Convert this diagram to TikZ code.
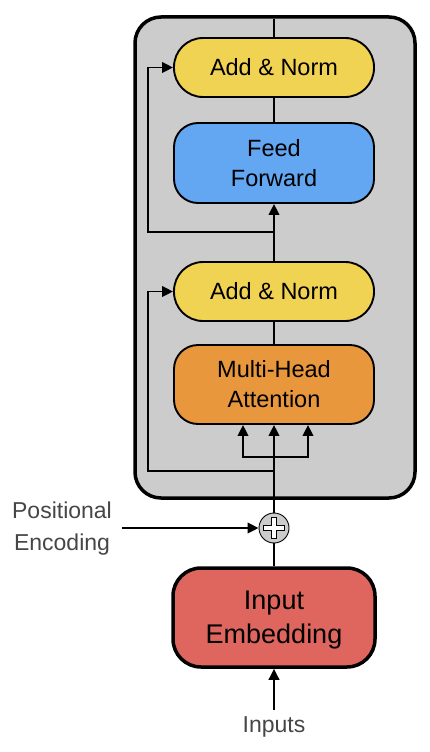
\documentclass[tikz,border=0pt]{standalone}
\usepackage{fontspec}
\setmainfont{Liberation Sans}
\usetikzlibrary{arrows.meta,calc}
\definecolor{boxgray}{RGB}{204,204,204}
\definecolor{normyellow}{RGB}{240,211,82}
\definecolor{ffblue}{RGB}{99,166,242}
\definecolor{mhaorange}{RGB}{232,151,61}
\definecolor{embred}{RGB}{222,102,94}
\definecolor{labelgray}{RGB}{70,70,70}
\tikzset{
  conn/.style={line width=1.9pt},
  arr/.style={conn,-{Triangle[length=11pt,width=10.5pt]}},
  blockbox/.style={draw, line width=1.9pt, minimum width=200pt, inner sep=0pt, align=center,
    font=\fontsize{23.5}{30}\selectfont},
  normbox/.style={blockbox, fill=normyellow, minimum height=59pt, rounded corners=29pt},
  tallbox/.style={blockbox, minimum height=80pt, rounded corners=24pt},
  lbl/.style={inner sep=0pt, align=center, text=labelgray, font=\fontsize{23}{32}\selectfont}
}
\begin{document}
\begin{tikzpicture}[x=1pt,y=-1pt]
\useasboundingbox (0,0) rectangle (430,752);
% encoder frame
\node[draw, line width=3.5pt, fill=boxgray, rounded corners=26pt, minimum width=280pt,
  minimum height=481pt, inner sep=0pt] (enc) at (275,257.5) {};
% blocks
\node[normbox] (an2) at (274,67.5) {Add \& Norm};
\node[tallbox, fill=ffblue] (ff) at (274,163) {Feed\\Forward};
\node[normbox] (an1) at (274,291.5) {Add \& Norm};
\node[tallbox, fill=mhaorange, minimum height=79pt] (mha) at (274,384.5) {Multi-Head\\Attention};
\node[draw, line width=3.5pt, fill=embred, minimum width=202pt, minimum height=99pt,
  rounded corners=28pt, inner sep=0pt] (emb) at (274,617.5) {};
\node[inner sep=0pt, align=center, font=\fontsize{27}{34}\selectfont] (embt) at (274,620.5) {Input\\Embedding};
% plus
\node[circle, draw, line width=0.9pt, fill=boxgray, minimum size=30pt, inner sep=0pt] (plus) at (274,528) {};
\fill[white, draw=black, line width=0.8pt]
  ($(plus.center)+(-2.7,-10.8)$) -- ++(5.4,0) -- ++(0,8.1) -- ++(8.1,0) -- ++(0,5.4) -- ++(-8.1,0)
  -- ++(0,8.1) -- ++(-5.4,0) -- ++(0,-8.1) -- ++(-8.1,0) -- ++(0,-5.4) -- ++(8.1,0) -- cycle;
% labels
\node[lbl] (pos) at (62,529) {Positional\\Encoding};
\node[lbl] (inp) at (274,727) {Inputs};
% coordinates
\coordinate (top) at (274,19);
\coordinate (r2) at (274,232);
\coordinate (r2l) at (148,232);
\coordinate (r1) at (274,471);
\coordinate (r1l) at (148,471);
\coordinate (fk) at (274,457);
\coordinate (fl) at (243,457);
\coordinate (fr) at (308,457);
\coordinate (pe) at (122,528);
\coordinate (inb) at (274,710);
% connectors
\draw[conn] (top) -- (an2.north);
\draw[conn] (an2.south) -- (ff.north);
\draw[arr] (an1.north) -- (ff.south);
\draw[arr] (r2) -- (r2l) |- (an2.west);
\draw[conn] (an1.south) -- (mha.north);
\draw[arr] (r1) -- (r1l) |- (an1.west);
\draw[arr] (plus.north) -- (mha.south);
\draw[arr] (fk) -- (fl) -- (fl |- mha.south);
\draw[arr] (fk) -- (fr) -- (fr |- mha.south);
\draw[conn] (emb.north) -- (plus.south);
\draw[arr] (pe) -- (plus.west);
\draw[arr] (inb) -- (emb.south);
\end{tikzpicture}
\end{document}
